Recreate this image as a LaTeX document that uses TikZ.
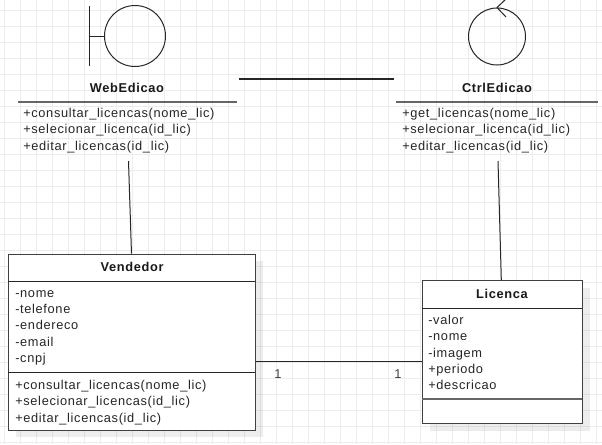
\documentclass[tikz,border=0pt]{standalone}
\usepackage{fontspec}
\setmainfont[LetterSpace=5.2]{Liberation Sans}
\usetikzlibrary{shadows}
\newcommand{\px}{0.75pt}

\begin{document}
\begin{tikzpicture}[x=0.75pt,y=-0.75pt]
    \tikzset{gridline/.style={draw=black!7,line width=1*\px},
    classbox/.style={draw=black!75,fill=white,line width=1.3*\px,anchor=north west,inner sep=0pt,
        drop shadow={shadow xshift=7*\px,shadow yshift=-7*\px,fill=black,opacity=.07}},
    classname/.style={font=\fontsize{9.6}{11}\selectfont\bfseries,text=black!90,inner sep=0pt},
    members/.style={font=\fontsize{9.6}{12.25}\selectfont,text=black!85,align=left,anchor=north west,inner sep=0pt},
    rule/.style={draw=black!85,line width=1*\px},
    namerule/.style={draw=black!60,line width=1.5*\px},
    icon/.style={circle,draw=black!85,line width=1*\px,inner sep=0pt},
    assoc/.style={draw=black!85,line width=1*\px},
    mult/.style={font=\fontsize{9.6}{11}\selectfont,text=black!75,inner sep=0pt}}
    \useasboundingbox (0,0) rectangle (602,444);
    \fill[white] (0,0) rectangle (602,444);
    \foreach \gx in {4,20,...,596} {\draw[gridline] (\gx,0) -- (\gx,444);}
    \foreach \gy in {10,26,...,442} {\draw[gridline] (0,\gy) -- (602,\gy);}

    % boundary class
    \node[icon,minimum size=61*\px] (webicon) at (135,36) {};
    \coordinate (webbar) at (89.5,36);
    \draw[rule] (webicon.west) -- (webbar);
    \draw[rule] (89.5,6) -- (89.5,66);
    \node[classname] (webname) at (127,88) {WebEdicao};
    \coordinate (webruleL) at (17.5,102);
    \coordinate (webruleR) at (237,102);
    \draw[namerule] (webruleL) -- (webruleR);
    \node[members] (webops) at (23,108) {+consultar\_licencas(nome\_lic)\\+selecionar\_licenca(id\_lic)\\+editar\_licencas(id\_lic)};

    % control class
    \node[icon,minimum size=57*\px] (ctrlicon) at (497,36.5) {};
    \coordinate (ctrlup) at (506,-1);
    \coordinate (ctrldown) at (506,17);
    \draw[rule] (ctrlup) -- (ctrlicon.north) -- (ctrldown);
    \node[classname] (ctrlname) at (497,88) {CtrlEdicao};
    \coordinate (ctrlruleL) at (396,102);
    \coordinate (ctrlruleR) at (598,102);
    \draw[namerule] (ctrlruleL) -- (ctrlruleR);
    \node[members] (ctrlops) at (402,108) {+get\_licencas(nome\_lic)\\+selecionar\_licenca(id\_lic)\\+editar\_licencas(id\_lic)};

    % entity classes
    \node[classbox,minimum width=247*\px,minimum height=176*\px] (vendedor) at (8,253.5) {};
    \node[classname] (vendname) at (132,267) {Vendedor};
    \draw[rule] (8,281) -- (255,281);
    \draw[rule] (8,372.5) -- (255,372.5);
    \node[members] (vendattrs) at (15,290) {-nome\\-telefone\\-endereco\\-email\\-cnpj};
    \node[members] (vendops) at (15,380) {+consultar\_licencas(nome\_lic)\\+selecionar\_licencas(id\_lic)\\+editar\_licencas(id\_lic)};

    \node[classbox,minimum width=160*\px,minimum height=143*\px] (licenca) at (422,280) {};
    \node[classname] (licname) at (502,293.5) {Licenca};
    \draw[rule] (422,308) -- (582,308);
    \draw[namerule] (422,399) -- (582,399);
    \node[members] (licattrs) at (428,315) {-valor\\-nome\\-imagem\\+periodo\\+descricao};

    % connectors
    \coordinate (webassoc) at (239,79);
    \coordinate (ctrlassoc) at (394,79);
    \draw[assoc,line width=1.2*\px] (webassoc) -- (ctrlassoc);
    \coordinate (webfoot) at (128.5,161);
    \draw[assoc] (webfoot) -- ([xshift=-.5pt]vendedor.north);
    \coordinate (ctrlfoot) at (498,161);
    \draw[assoc] (ctrlfoot) -- ([xshift=-1pt]licenca.north);
    \coordinate (vendlic) at (340,361.5);
    \draw[assoc] (vendedor.east |- vendlic) -- (licenca.west |- vendlic);
    \node[mult] (multvend) at (278,374) {1};
    \node[mult] (multlic) at (398,374) {1};
\end{tikzpicture}
\end{document}
